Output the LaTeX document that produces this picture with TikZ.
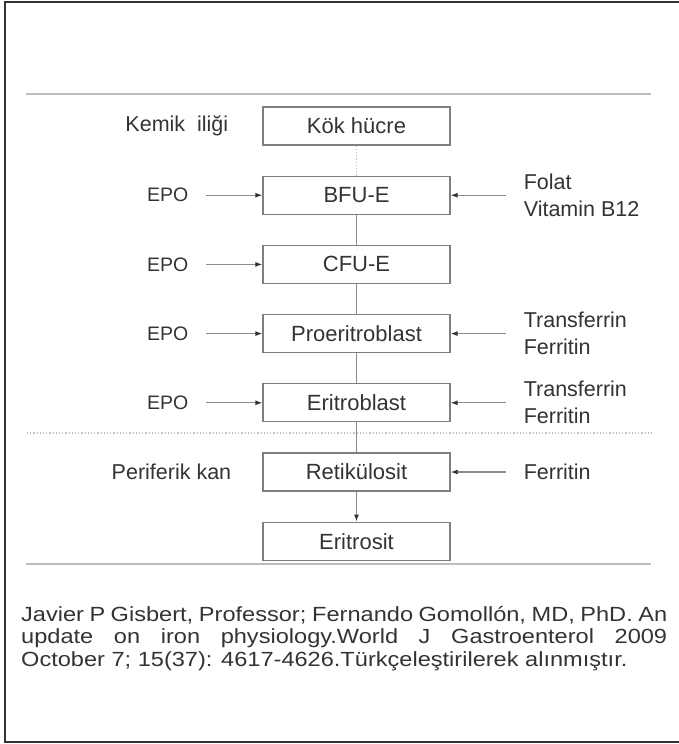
\documentclass[tikz,border=0pt]{standalone}
\usepackage{fontspec}
\setmainfont{Liberation Sans}
\newfontfamily\citefont[FakeStretch=1.15]{Liberation Sans}
\usepackage{tikz}
\usetikzlibrary{arrows.meta, positioning}
\definecolor{CellGray}{HTML}{7F7F7F}
\definecolor{LinkGray}{HTML}{8C8C8C}
\definecolor{RuleGray}{HTML}{BDBDBD}
\definecolor{InkGray}{HTML}{333333}

\begin{document}
\begin{tikzpicture}[
  x=1pt, y=-1pt,
  node distance=30pt and 74pt,
  cell/.style={rectangle, draw=CellGray, line width=1.2pt, minimum width=187pt, minimum height=38pt, inner sep=0pt, text=InkGray, font=\fontsize{22}{26}\selectfont},
  side/.style={inner sep=0pt, text=InkGray, align=left, font=\fontsize{21.5}{27}\selectfont},
  epo/.style={inner sep=0pt, text=InkGray, font=\fontsize{19.5}{24}\selectfont},
  link/.style={draw=LinkGray, line width=1.2pt},
  feed/.style={link, ->, shorten <=18pt},
  rule/.style={draw=RuleGray, line width=2.5pt},
  >={Latex[length=7pt,width=5pt,color=InkGray]}
]
\useasboundingbox (0,0) rectangle (679,744);
\draw[InkGray, line width=1.5pt] (681,2) -- (5,2) -- (5,742) -- (681,742);
\draw[rule] (26,94) -- (651,94);
\draw[link, dotted, draw=RuleGray] (27,433) -- (652,433);
\draw[rule] (26,564) -- (651,564);

\node[cell] (Kok) at (356.5,126) {Kök hücre};
\node[cell, below=of Kok] (BFU) {BFU-E};
\node[cell, below=of BFU] (CFU) {CFU-E};
\node[cell, below=of CFU] (Pro) {Proeritroblast};
\node[cell, below=of Pro] (Eri) {Eritroblast};
\node[cell, below=of Eri] (Ret) {Retikülosit};
\node[cell, below=of Ret] (Ery) {Eritrosit};

\node[side, left=34pt of Kok] (Marrow) {Kemik\ \ iliği};
\node[side, left=31pt of Ret] (Blood) {Periferik kan};

\node[epo, left=of BFU] (EpoBFU) {EPO};
\node[epo, left=of CFU] (EpoCFU) {EPO};
\node[epo, left=of Pro] (EpoPro) {EPO};
\node[epo, left=of Eri] (EpoEri) {EPO};

\node[side, right=73pt of BFU] (VitBFU) {Folat\\Vitamin B12};
\node[side, right=73pt of Pro] (FePro) {Transferrin\\Ferritin};
\node[side, right=73pt of Eri] (FeEri) {Transferrin\\Ferritin};
\node[side, right=73pt of Ret] (FeRet) {Ferritin};

\draw[link, dotted, draw=RuleGray] (Kok) -- (BFU);
\draw[link] (BFU) -- (CFU);
\draw[link] (CFU) -- (Pro);
\draw[link] (Pro) -- (Eri);
\draw[link] (Eri) -- (Ret);
\draw[link, ->] (Ret) -- (Ery);

\draw[feed] (EpoBFU) -- (BFU);
\draw[feed] (EpoCFU) -- (CFU);
\draw[feed] (EpoPro) -- (Pro);
\draw[feed] (EpoEri) -- (Eri);
\draw[feed] (VitBFU) -- (BFU);
\draw[feed] (FePro) -- (Pro);
\draw[feed] (FeEri) -- (Eri);
\draw[feed] (FeRet) -- (Ret);

\node[anchor=north west, inner sep=0pt, text width=646pt, align=justify, text=InkGray] (Cite) at (21,606) {\citefont\fontsize{20.5}{22.5}\selectfont\hyphenpenalty=10000 Javier P Gisbert, Professor; Fernando Gomollón, MD, PhD. An\linebreak update on iron physiology.World J Gastroenterol 2009\linebreak October 7; 15(37): 4617-4626.Türkçeleştirilerek alınmıştır.\par};
\end{tikzpicture}
\end{document}
